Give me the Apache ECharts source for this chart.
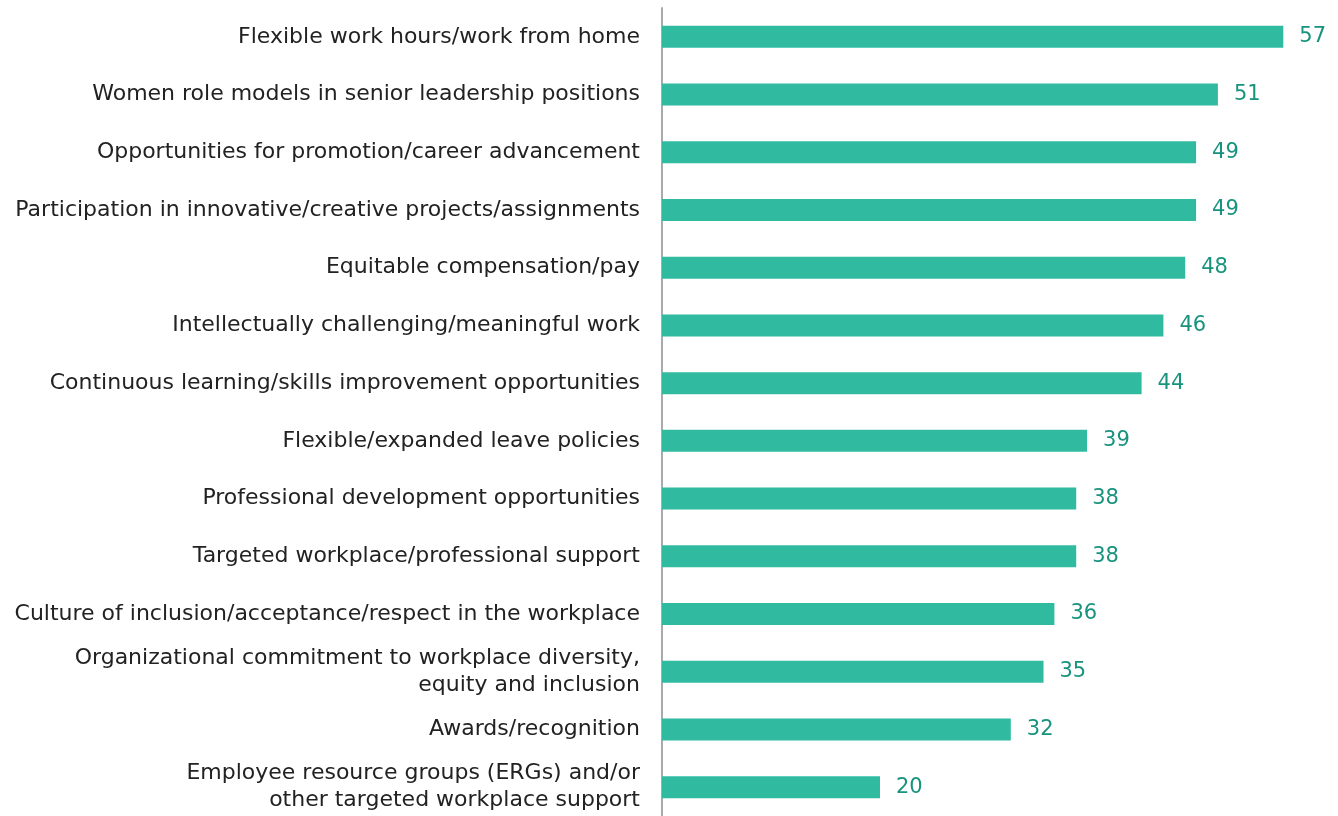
<!DOCTYPE html>
<html>
<head>
<meta charset="utf-8">
<script src="https://cdn.jsdelivr.net/npm/echarts@6/dist/echarts.min.js"></script>
<style>
  html, body { margin: 0; padding: 0; background: #fff; }
  #chart { width: 1338px; height: 816px; }
</style>
</head>
<body>
<div id="chart"></div>
<script>
// categories top to bottom
const categories = [
    'Flexible work hours/work from home',
    'Women role models in senior leadership positions',
    'Opportunities for promotion/career advancement',
    'Participation in innovative/creative projects/assignments',
    'Equitable compensation/pay',
    'Intellectually challenging/meaningful work',
    'Continuous learning/skills improvement opportunities',
    'Flexible/expanded leave policies',
    'Professional development opportunities',
    'Targeted workplace/professional support',
    'Culture of inclusion/acceptance/respect in the workplace',
    'Organizational commitment to workplace diversity,\nequity and inclusion',
    'Awards/recognition',
    'Employee resource groups (ERGs) and/or\nother targeted workplace support'
];
const values = [57, 51, 49, 49, 48, 46, 44, 39, 38, 38, 36, 35, 32, 20];

let myChart = echarts.init(document.getElementById('chart'));
myChart.setOption({
    animation: false,
    grid: { left: 662, right: 22, top: 8, bottom: 0 },
    xAxis: {
        type: 'value',
        min: 0,
        max: 60,
        show: false
    },
    yAxis: {
        type: 'category',
        data: categories,
        inverse: true,
        axisLine: { show: true, lineStyle: { color: '#aaaaaa', width: 2 } },
        axisTick: { show: false },
        axisLabel: {
            margin: 22,
            fontFamily: 'DejaVu Sans',
            fontSize: 22,
            color: '#222222',
            lineHeight: 27,
            align: 'right'
        }
    },
    series: [
        {
            type: 'bar',
            data: values,
            barWidth: 22,
            itemStyle: { color: '#30bba0' },
            label: {
                show: true,
                position: 'right',
                distance: 16,
                fontFamily: 'DejaVu Sans',
                fontSize: 21,
                color: '#17937e'
            }
        }
    ]
});
</script>
</body>
</html>
